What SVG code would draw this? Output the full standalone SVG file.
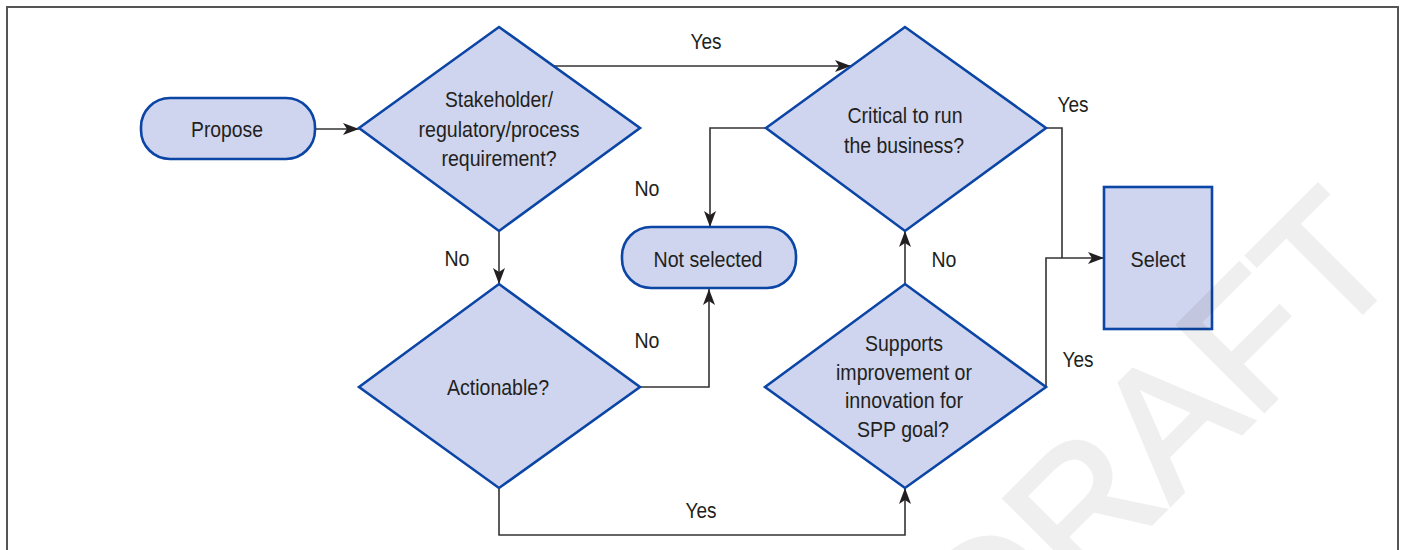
<svg xmlns="http://www.w3.org/2000/svg" width="1401" height="550" viewBox="0 0 1401 550">
  <style>
    .node { fill: #cfd5ee; stroke: #0b45a5; stroke-width: 2.6; }
    .txt { font-family: "Liberation Sans", Arial, sans-serif; font-size: 22px; fill: #231f20; text-anchor: middle; }
    .conn { fill: none; stroke: #333333; stroke-width: 1.6; }
    .frame { fill: none; stroke: #555555; stroke-width: 2; }
    .wm { font-family: "Liberation Sans", Arial, sans-serif; font-size: 177px; fill: #000000; stroke: #000000; stroke-width: 4; stroke-linejoin: miter; text-anchor: end; }
  </style>
  <defs>
    <marker id="arrow" markerUnits="userSpaceOnUse" viewBox="0 0 16 12" refX="16" refY="6" markerWidth="16" markerHeight="12" orient="auto">
      <path d="M0,0 L16,6 L0,12 L4,6 Z" fill="#231f20"/>
    </marker>
  </defs>

  <rect width="1401" height="550" fill="#ffffff"/>
  <path class="frame" d="M7,551 V7 H1398 V551"/>

  <g id="connectors">
    <path class="conn" d="M315,129 H359" marker-end="url(#arrow)"/>
    <path class="conn" d="M553,66 H851" marker-end="url(#arrow)"/>
    <path class="conn" d="M766,128 H710 V227" marker-end="url(#arrow)"/>
    <path class="conn" d="M499,231 V284" marker-end="url(#arrow)"/>
    <path class="conn" d="M640,387 H709 V289" marker-end="url(#arrow)"/>
    <path class="conn" d="M499,488 V535 H905 V488" marker-end="url(#arrow)"/>
    <path class="conn" d="M905,284 V231" marker-end="url(#arrow)"/>
    <path class="conn" d="M1046,128 H1062 V258"/>
    <path class="conn" d="M1046,387 V258 H1104" marker-end="url(#arrow)"/>
    <g id="connector-labels">
      <text class="txt" x="706" y="49" textLength="31" lengthAdjust="spacingAndGlyphs">Yes</text>
      <text class="txt" x="647" y="196" textLength="25" lengthAdjust="spacingAndGlyphs">No</text>
      <text class="txt" x="457" y="266" textLength="25" lengthAdjust="spacingAndGlyphs">No</text>
      <text class="txt" x="647" y="348" textLength="25" lengthAdjust="spacingAndGlyphs">No</text>
      <text class="txt" x="944" y="267" textLength="25" lengthAdjust="spacingAndGlyphs">No</text>
      <text class="txt" x="1073" y="112" textLength="31" lengthAdjust="spacingAndGlyphs">Yes</text>
      <text class="txt" x="1078" y="367" textLength="31" lengthAdjust="spacingAndGlyphs">Yes</text>
      <text class="txt" x="701" y="518" textLength="31" lengthAdjust="spacingAndGlyphs">Yes</text>
    </g>
  </g>

  <g id="propose">
    <rect class="node" x="141" y="98" width="174" height="61" rx="29" ry="29"/>
    <text class="txt" x="227" y="137" textLength="72" lengthAdjust="spacingAndGlyphs">Propose</text>
  </g>

  <g id="stakeholder">
    <polygon class="node" points="359,128 499,27 640,128 499,231"/>
    <text class="txt" x="499" y="107" textLength="108" lengthAdjust="spacingAndGlyphs">Stakeholder/</text>
    <text class="txt" x="499" y="137" textLength="161" lengthAdjust="spacingAndGlyphs">regulatory/process</text>
    <text class="txt" x="499" y="166" textLength="115" lengthAdjust="spacingAndGlyphs">requirement?</text>
  </g>

  <g id="critical">
    <polygon class="node" points="766,128 905,27 1046,128 905,231"/>
    <text class="txt" x="905" y="123" textLength="115" lengthAdjust="spacingAndGlyphs">Critical to run</text>
    <text class="txt" x="904" y="153" textLength="120" lengthAdjust="spacingAndGlyphs">the business?</text>
  </g>

  <g id="not-selected">
    <rect class="node" x="622" y="227" width="174" height="61" rx="29" ry="29"/>
    <text class="txt" x="708" y="267" textLength="109" lengthAdjust="spacingAndGlyphs">Not selected</text>
  </g>

  <g id="actionable">
    <polygon class="node" points="359,387 499,284 640,387 499,488"/>
    <text class="txt" x="498" y="395" textLength="102" lengthAdjust="spacingAndGlyphs">Actionable?</text>
  </g>

  <g id="supports">
    <polygon class="node" points="765,387 905,284 1046,387 905,488"/>
    <text class="txt" x="904" y="351" textLength="78" lengthAdjust="spacingAndGlyphs">Supports</text>
    <text class="txt" x="904" y="380" textLength="136" lengthAdjust="spacingAndGlyphs">improvement or</text>
    <text class="txt" x="904" y="408" textLength="118" lengthAdjust="spacingAndGlyphs">innovation for</text>
    <text class="txt" x="903" y="437" textLength="92" lengthAdjust="spacingAndGlyphs">SPP goal?</text>
  </g>

  <g id="select">
    <rect class="node" x="1104" y="187" width="108" height="142"/>
    <text class="txt" x="1158" y="267" textLength="55" lengthAdjust="spacingAndGlyphs">Select</text>
  </g>

  <g id="watermark" opacity="0.06">
    <text class="wm" x="1407" y="268" transform="rotate(-45 1407 268)">DRAFT</text>
  </g>
</svg>
